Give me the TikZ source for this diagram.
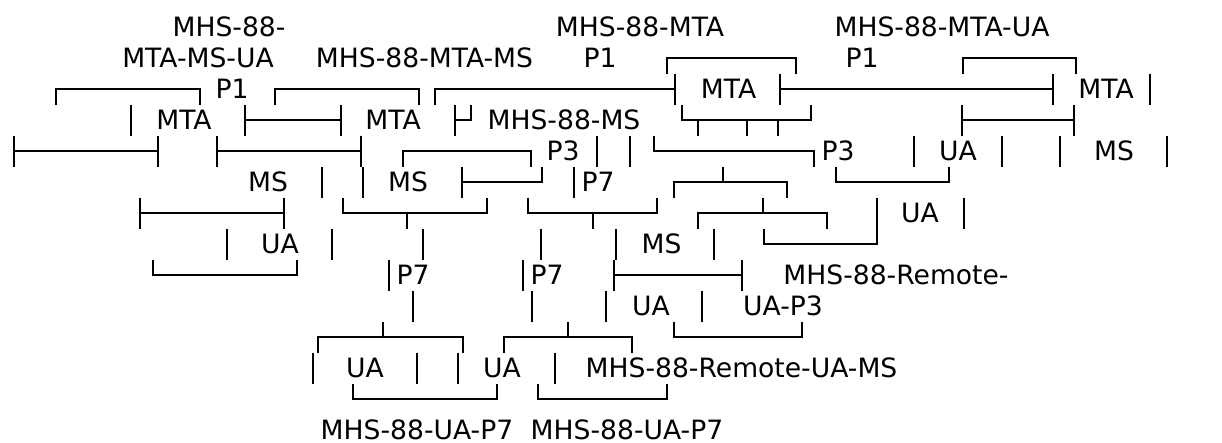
\documentclass[tikz,border=0pt]{standalone}
\usepackage{fontspec}
\setmainfont{DejaVu Sans}
\newcommand{\akv}[2]{\draw[ln] (#1,#2-0.5) -- (#1,#2+0.5);}
\newcommand{\akdn}[3]{\draw[ln] (#1,#3+0.5) -- (#1,#3) -- (#2,#3) -- (#2,#3+0.5);}
\newcommand{\akup}[3]{\draw[ln] (#1,#3-0.5) -- (#1,#3) -- (#2,#3) -- (#2,#3-0.5);}
\newcommand{\akhh}[3]{\draw[ln] (#1,#3) -- (#2,#3); \akv{#1}{#3}\akv{#2}{#3}}
\newcommand{\akd}[2]{\draw[ln] (#1,#2) -- (#1,#2+0.5);}
\newcommand{\aku}[2]{\draw[ln] (#1,#2) -- (#1,#2-0.5);}
\begin{document}
\begin{tikzpicture}[x=1pt,y=-31pt,
  lbl/.style={inner sep=0pt, font=\fontsize{26.6}{31}\selectfont},
  ln/.style={line width=2.4pt, line cap=butt, line join=miter}]
\useasboundingbox (0pt,-4pt) rectangle (1222pt,-446pt);
% row 1
\node[lbl] (a1) at (229,1) {MHS-88-};
\node[lbl] (a2) at (640,1) {MHS-88-MTA};
\node[lbl] (a3) at (942,1) {MHS-88-MTA-UA};
% row 2
\node[lbl] (b1) at (198,2) {MTA-MS-UA};
\node[lbl] (b2) at (424.5,2) {MHS-88-MTA-MS};
\node[lbl] (b3) at (600,2) {P1};
\akdn{667}{796}{2}
\node[lbl] (b4) at (862,2) {P1};
\akdn{963}{1076}{2}
% row 3
\akdn{56}{200}{3}
\node[lbl] (c1) at (232,3) {P1};
\akdn{275}{419}{3}
\draw[ln] (435,3.5) -- (435,3) -- (675,3); \akv{675}{3}
\node[lbl] (c2) at (728.5,3) {MTA};
\akhh{780}{1053}{3}
\node[lbl] (c3) at (1106,3) {MTA};
\akv{1150}{3}
% row 4
\akv{131}{4}
\node[lbl] (d1) at (184,4) {MTA};
\akhh{245}{341}{4}
\node[lbl] (d2) at (393,4) {MTA};
\akv{455}{4}
\draw[ln] (455,4) -- (471,4) -- (471,3.5);
\node[lbl] (d3) at (564,4) {MHS-88-MS};
\akup{682}{811}{4}
\akd{698}{4}\akd{747}{4}\akd{778}{4}
\akhh{962}{1074}{4}
% row 5
\akhh{14}{158}{5}
\akhh{217}{361}{5}
\akdn{403}{531}{5}
\node[lbl] (e1) at (563,5) {P3};
\akv{597}{5}\akv{630}{5}
\draw[ln] (654,4.5) -- (654,5) -- (814,5) -- (814,5.5);
\node[lbl] (e2) at (838,5) {P3};
\akv{914}{5}
\node[lbl] (e3) at (958,5) {UA};
\akv{1002}{5}\akv{1060}{5}
\node[lbl] (e4) at (1114,5) {MS};
\akv{1167}{5}
% row 6
\node[lbl] (f1) at (268,6) {MS};
\akv{322}{6}\akv{363}{6}
\node[lbl] (f2) at (408,6) {MS};
\akv{462}{6}
\draw[ln] (462,6) -- (542,6) -- (542,5.5);
\akv{574}{6}
\node[lbl] (f3) at (598,6) {P7};
\akdn{674}{787}{6}\aku{723}{6}
\akup{836}{949}{6}
% row 7
\akhh{140}{284}{7}
\akup{343}{487}{7}\akd{407}{7}
\akup{528}{657}{7}\akd{593}{7}
\akdn{698}{827}{7}\aku{763}{7}
\akv{877}{7}
\node[lbl] (g1) at (920,7) {UA};
\akv{964}{7}
% row 8
\akv{227}{8}
\node[lbl] (h1) at (280,8) {UA};
\akv{332}{8}\akv{423}{8}\akv{541}{8}\akv{616}{8}
\node[lbl] (h2) at (661.5,8) {MS};
\akv{714}{8}
\akup{764}{877}{8}
% row 9
\akup{153}{297}{9}
\akv{389}{9}
\node[lbl] (i1) at (413,9) {P7};
\akv{523}{9}
\node[lbl] (i2) at (547,9) {P7};
\akhh{614}{742}{9}
\node[lbl] (i3) at (896,9) {MHS-88-Remote-};
% row 10
\akv{413}{10}\akv{532}{10}\akv{606}{10}
\node[lbl] (j1) at (651,10) {UA};
\akv{702}{10}
\node[lbl] (j2) at (783,10) {UA-P3};
% row 11
\akdn{318}{463}{11}\aku{383}{11}
\akdn{504}{632}{11}\aku{568}{11}
\akup{674}{802}{11}
% row 12
\akv{313}{12}
\node[lbl] (k1) at (365,12) {UA};
\akv{417}{12}\akv{458}{12}
\node[lbl] (k2) at (502,12) {UA};
\akv{555}{12}
\node[lbl] (k3) at (741.5,12) {MHS-88-Remote-UA-MS};
% row 13
\akup{353}{497}{13}
\akup{538}{667}{13}
% row 14
\node[lbl] (l1) at (417,14) {MHS-88-UA-P7};
\node[lbl] (l2) at (627,14) {MHS-88-UA-P7};
\end{tikzpicture}
\end{document}
